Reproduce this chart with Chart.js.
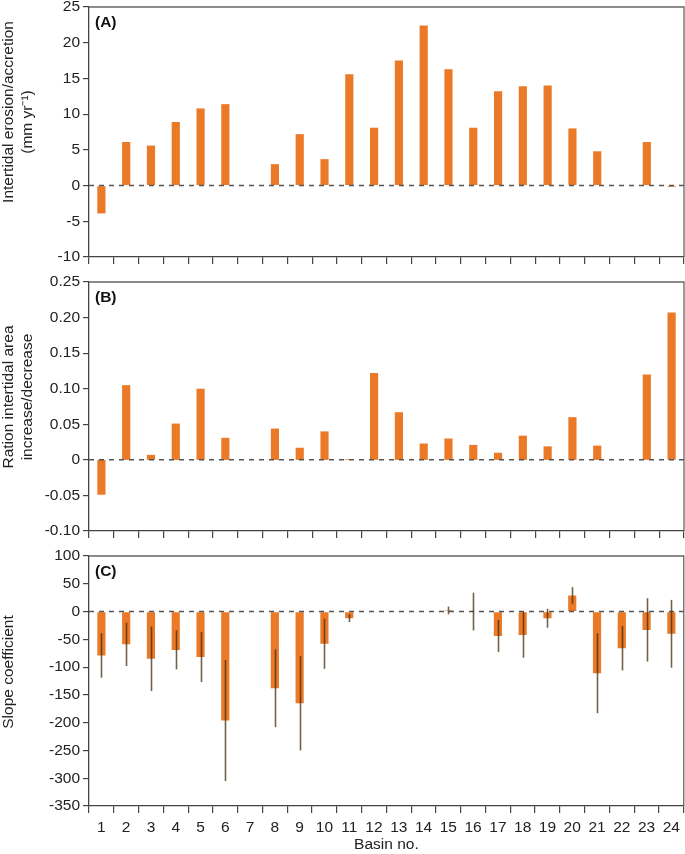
<!DOCTYPE html>
<html>
<head>
<meta charset="utf-8">
<script src="https://cdn.jsdelivr.net/npm/chart.js@4"></script>
<style>
body { margin: 0; background: #fff; }
.panel { position: absolute; left: 0; width: 685px; }
</style>
</head>
<body>
<div class="panel" style="top:0px;height:270px"><canvas id="chartA"></canvas></div>
<div class="panel" style="top:270px;height:270px"><canvas id="chartB"></canvas></div>
<div class="panel" style="top:540px;height:314px"><canvas id="chartC"></canvas></div>
<script>
var basins = ['1','2','3','4','5','6','7','8','9','10','11','12','13','14','15','16','17','18','19','20','21','22','23','24']

// (A) intertidal erosion/accretion, mm/yr
var erosionRate = [-3.9, 6.1, 5.6, 8.9, 10.8, 11.4, null, 3.0, 7.2, 3.7, 15.6, 8.1, 17.5, 22.4, 16.3, 8.1, 13.2, 13.9, 14.0, 8.0, 4.8, null, 6.1, -0.2]

// (B) ratio intertidal area increase/decrease
var areaRatio = [-0.049, 0.105, 0.007, 0.051, 0.100, 0.031, null, 0.044, 0.017, 0.040, 0.001, 0.122, 0.067, 0.023, 0.030, 0.021, 0.010, 0.034, 0.019, 0.060, 0.020, null, 0.120, 0.207]

// (C) slope coefficient and its error
var slopeCoef = [-79, -59, -85, -69, -82, -196, null, -138, -165, -58, -12, null, null, null, 2, 0, -44, -42, -12, 29, -111, -66, -33, -40]
var slopeErr = [40, 39, 58, 35, 45, 109, null, 70, 85, 45, 7, null, null, null, 7, 34, 29, 41, 17, 15, 72, 40, 57, 61]

var FONT = "'Liberation Sans', Arial, sans-serif"
var BAR = '#eb7a28'
var AXIS = '#444'

Chart.defaults.font.family = FONT
Chart.defaults.font.size = 15.5
Chart.defaults.color = '#222'

function panelPlugin(label, titleLines, titleY, errors) {
    return {
        id: 'panel',
        afterDatasetsDraw: function (chart) {
            var ctx = chart.ctx
            var area = chart.chartArea
            var x = chart.scales.x
            var y = chart.scales.y
            var y0 = y.getPixelForValue(0)
            ctx.save()
            ctx.strokeStyle = '#555'
            ctx.lineWidth = 1.5
            ctx.setLineDash([5, 5])
            ctx.beginPath()
            ctx.moveTo(area.left, y0)
            ctx.lineTo(area.right, y0)
            ctx.stroke()
            ctx.setLineDash([])
            if (errors) {
                var vals = chart.data.datasets[0].data
                ctx.strokeStyle = 'rgba(65,45,12,0.75)'
                ctx.lineWidth = 1.6
                errors.forEach(function (e, i) {
                    if (e === null || vals[i] === null) return
                    var px = Math.round(x.getPixelForValue(i)) + 0.5
                    ctx.beginPath()
                    ctx.moveTo(px, y.getPixelForValue(vals[i] + e))
                    ctx.lineTo(px, y.getPixelForValue(vals[i] - e))
                    ctx.stroke()
                })
            }
            ctx.restore()
        },
        afterDraw: function (chart) {
            var ctx = chart.ctx
            var area = chart.chartArea
            ctx.save()
            ctx.strokeStyle = '#666'
            ctx.lineWidth = 1.3
            ctx.beginPath()
            ctx.moveTo(area.left, area.top)
            ctx.lineTo(area.right, area.top)
            ctx.lineTo(area.right, area.bottom)
            ctx.stroke()
            ctx.fillStyle = '#111'
            ctx.font = 'bold 15.5px ' + FONT
            ctx.textBaseline = 'middle'
            ctx.fillText(label, area.left + 6, area.top + 16)
            ctx.font = '15.5px ' + FONT
            ctx.fillStyle = '#222'
            ctx.textAlign = 'center'
            titleLines.forEach(function (t, i) {
                ctx.save()
                ctx.translate(9 + i * 18.5, titleY[i])
                ctx.rotate(-Math.PI / 2)
                ctx.fillText(t, 0, 0)
                ctx.restore()
            })
            ctx.restore()
        }
    }
}

function makeOptions(yMin, yMax, yStep, fmt, showX, xHeight, pad) {
    return {
        responsive: true,
        maintainAspectRatio: false,
        animation: false,
        layout: { autoPadding: false, padding: pad },
        plugins: { legend: { display: false }, tooltip: { enabled: false } },
        scales: {
            x: {
                offset: true,
                grid: { drawOnChartArea: false, drawTicks: true, tickLength: 7, color: AXIS, lineWidth: 1.2 },
                border: { color: AXIS, width: 1.3 },
                ticks: { display: showX, padding: 5, maxRotation: 0, autoSkip: false },
                title: { display: showX, text: 'Basin no.', padding: { top: 0, bottom: 0 } },
                afterFit: function (scale) { scale.height = xHeight }
            },
            y: {
                min: yMin,
                max: yMax,
                grid: { drawOnChartArea: false, drawTicks: true, tickLength: 6, color: AXIS, lineWidth: 1.2 },
                border: { color: AXIS, width: 1.3 },
                ticks: { stepSize: yStep, padding: 3, callback: fmt },
                afterFit: function (scale) {
                    scale.width = 89
                    scale.paddingTop = 0
                    scale.paddingBottom = 0
                }
            }
        }
    }
}

function barData(values) {
    return {
        labels: basins,
        datasets: [{
            data: values,
            backgroundColor: BAR,
            borderWidth: 0,
            barPercentage: 0.33,
            categoryPercentage: 1
        }]
    }
}

var intFmt = function (v) { return v }
var ratioFmt = function (v) { return Math.abs(v) < 1e-9 ? '0' : v.toFixed(2) }

var chartA = new Chart(document.getElementById('chartA'), {
    type: 'bar',
    data: barData(erosionRate),
    options: makeOptions(-10, 25, 5, intFmt, false, 7, { top: 7, bottom: 6, left: 0, right: 1 }),
    plugins: [panelPlugin('(A)', ['Intertidal erosion/accretion', '(mm yr\u207B\u00B9)'], [112, 122], null)]
})

var chartB = new Chart(document.getElementById('chartB'), {
    type: 'bar',
    data: barData(areaRatio),
    options: makeOptions(-0.1, 0.25, 0.05, ratioFmt, false, 7, { top: 12, bottom: 2, left: 0, right: 1 }),
    plugins: [panelPlugin('(B)', ['Ration intertidal area', 'increase/decrease'], [127, 127], null)]
})

var chartC = new Chart(document.getElementById('chartC'), {
    type: 'bar',
    data: barData(slopeCoef),
    options: makeOptions(-350, 100, 50, intFmt, true, 48, { top: 16, bottom: 0, left: 0, right: 1 }),
    plugins: [panelPlugin('(C)', ['Slope coefficient'], [132], slopeErr)]
})
</script>
</body>
</html>
